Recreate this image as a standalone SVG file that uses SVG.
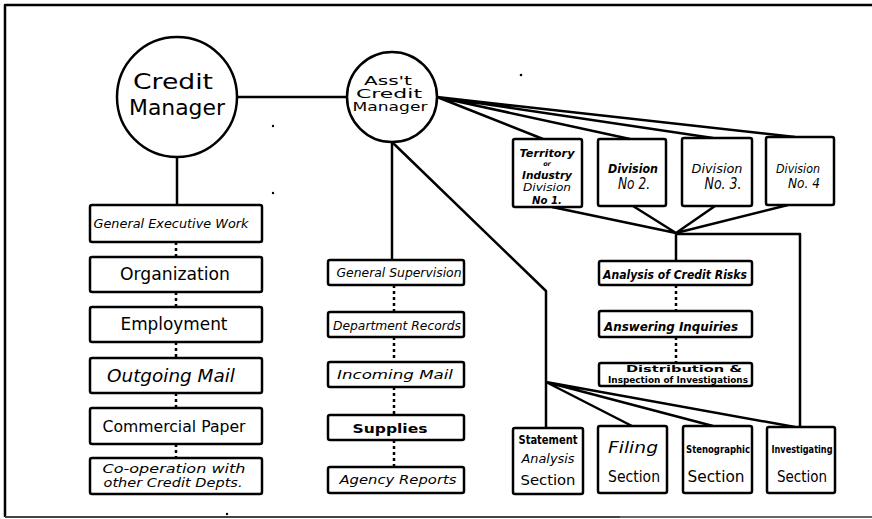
<svg xmlns="http://www.w3.org/2000/svg" width="872" height="519" viewBox="0 0 872 519">
<style>
.b{fill:#fff;stroke:#000;stroke-width:2.5}
.c{fill:#fff;stroke:#000;stroke-width:2.5}
.l{fill:none;stroke:#000;stroke-width:2.5;stroke-linejoin:round}
.d{fill:none;stroke:#000;stroke-width:2.5;stroke-dasharray:3 3}
.t{font-family:"DejaVu Sans","Liberation Sans",sans-serif;fill:#000;text-anchor:middle}
.i{font-style:italic}
.bd{font-weight:bold}
</style>
<rect width="872" height="519" fill="#fff"/>
<g id="frame">
<path class="l" d="M5,517 L5,5 L872,5" stroke-width="2"/>
<path d="M5,517 L620,517" stroke="#444" stroke-width="2"/>
<path d="M620,517 L872,517" stroke="#666" stroke-width="2"/>
<circle cx="521" cy="75" r="1.3"/>
<circle cx="273" cy="126" r="1.2"/>
<circle cx="273" cy="193" r="1.2"/>
<circle cx="227" cy="514" r="1.2"/>
</g>
<g id="connectors">
<path class="l" d="M238,97 L347,97"/>
<path class="l" d="M177,158 L177,205"/>
<path class="l" d="M392,142 L392,260"/>
<path class="l" d="M392,142 L546,291 L546,428"/>
<path class="l" d="M546,382 L632,426 M546,382 L713,426 M546,382 L795,427"/>
<path class="l" d="M437,97 L543,139 M437,97 L630,139 M437,97 L713,138 M437,97 L795,137"/>
<path class="l" d="M552,207 L676,233 M633,206 L676,233 M715,206 L676,233 M788,205 L676,233"/>
<path class="l" d="M676,233 L676,261"/>
<path class="l" d="M676,234 L800,234 L800,427"/>
<path class="d" d="M176,242 V257 M176,292 V307 M176,342 V358 M176,393 V408 M176,444 V458"/>
<path class="d" d="M394,285 V312 M394,337 V362 M394,387 V415 M394,440 V467"/>
<path class="d" d="M676,285 V311 M676,337 V363"/>
</g>
<g id="credit-manager">
<circle class="c" cx="177" cy="97" r="60"/>
<text class="t" x="173" y="89" font-size="22" textLength="80" lengthAdjust="spacingAndGlyphs">Credit</text>
<text class="t" x="177" y="115" font-size="22" textLength="96" lengthAdjust="spacingAndGlyphs">Manager</text>
</g>
<g id="asst-credit-manager">
<circle class="c" cx="392" cy="97" r="45"/>
<text class="t" x="388" y="85" font-size="11.5" textLength="48" lengthAdjust="spacingAndGlyphs">Ass't</text>
<text class="t" x="389" y="98" font-size="11.5" textLength="66" lengthAdjust="spacingAndGlyphs">Credit</text>
<text class="t" x="390" y="111" font-size="11.5" textLength="75" lengthAdjust="spacingAndGlyphs">Manager</text>
</g>
<g id="general-executive-work">
<rect class="b" x="90" y="205" width="172" height="37" rx="2"/>
<text class="t i" x="171" y="228" font-size="13" textLength="155" lengthAdjust="spacingAndGlyphs">General Executive Work</text>
</g>
<g id="organization">
<rect class="b" x="90" y="257" width="172" height="35" rx="2"/>
<text class="t" x="175" y="280" font-size="17" textLength="110" lengthAdjust="spacingAndGlyphs">Organization</text>
</g>
<g id="employment">
<rect class="b" x="90" y="307" width="172" height="35" rx="2"/>
<text class="t" x="174" y="330" font-size="17" textLength="107" lengthAdjust="spacingAndGlyphs">Employment</text>
</g>
<g id="outgoing-mail">
<rect class="b" x="90" y="358" width="172" height="35" rx="2"/>
<text class="t i" x="171" y="382" font-size="17" textLength="128" lengthAdjust="spacingAndGlyphs">Outgoing Mail</text>
</g>
<g id="commercial-paper">
<rect class="b" x="90" y="408" width="172" height="36" rx="2"/>
<text class="t" x="174" y="432" font-size="16" textLength="143" lengthAdjust="spacingAndGlyphs">Commercial Paper</text>
</g>
<g id="co-operation">
<rect class="b" x="90" y="458" width="172" height="36" rx="2"/>
<text class="t i" x="174" y="473" font-size="12" textLength="143" lengthAdjust="spacingAndGlyphs">Co-operation  with</text>
<text class="t i" x="173" y="487" font-size="12" textLength="139" lengthAdjust="spacingAndGlyphs">other Credit Depts.</text>
</g>
<g id="general-supervision">
<rect class="b" x="328" y="260" width="136" height="25" rx="2"/>
<text class="t i" x="399" y="277" font-size="12" textLength="125" lengthAdjust="spacingAndGlyphs">General Supervision</text>
</g>
<g id="department-records">
<rect class="b" x="328" y="312" width="136" height="25" rx="2"/>
<text class="t i" x="397" y="330" font-size="12" textLength="128" lengthAdjust="spacingAndGlyphs">Department Records</text>
</g>
<g id="incoming-mail">
<rect class="b" x="328" y="362" width="136" height="25" rx="2"/>
<text class="t i" x="395" y="379" font-size="13" textLength="116" lengthAdjust="spacingAndGlyphs">Incoming Mail</text>
</g>
<g id="supplies">
<rect class="b" x="328" y="415" width="136" height="25" rx="2"/>
<text class="t bd" x="390" y="433" font-size="13" textLength="75" lengthAdjust="spacingAndGlyphs">Supplies</text>
</g>
<g id="agency-reports">
<rect class="b" x="328" y="467" width="136" height="26" rx="2"/>
<text class="t i" x="398" y="484" font-size="12" textLength="117" lengthAdjust="spacingAndGlyphs">Agency  Reports</text>
</g>
<g id="division-1">
<rect class="b" x="513" y="139" width="69" height="68" rx="2"/>
<text class="t i bd" x="547" y="157" font-size="10" textLength="55" lengthAdjust="spacingAndGlyphs">Territory</text>
<text class="t i bd" x="547" y="166" font-size="6.5">or</text>
<text class="t i bd" x="547" y="179" font-size="10" textLength="50" lengthAdjust="spacingAndGlyphs">Industry</text>
<text class="t i" x="547" y="191" font-size="10" textLength="48" lengthAdjust="spacingAndGlyphs">Division</text>
<text class="t i bd" x="547" y="204" font-size="11" textLength="30" lengthAdjust="spacingAndGlyphs">No 1.</text>
</g>
<g id="division-2">
<rect class="b" x="598" y="139" width="68" height="67" rx="2"/>
<text class="t i bd" x="633" y="173" font-size="12" textLength="50" lengthAdjust="spacingAndGlyphs">Division</text>
<text class="t i" x="634" y="189" font-size="15" textLength="32" lengthAdjust="spacingAndGlyphs">No 2.</text>
</g>
<g id="division-3">
<rect class="b" x="682" y="138" width="70" height="68" rx="2"/>
<text class="t i" x="717" y="173" font-size="12" textLength="51" lengthAdjust="spacingAndGlyphs">Division</text>
<text class="t i" x="723" y="189" font-size="15" textLength="37" lengthAdjust="spacingAndGlyphs">No. 3.</text>
</g>
<g id="division-4">
<rect class="b" x="766" y="137" width="68" height="68" rx="2"/>
<text class="t i" x="798" y="173" font-size="12" textLength="44" lengthAdjust="spacingAndGlyphs">Division</text>
<text class="t i" x="804" y="188" font-size="14" textLength="32" lengthAdjust="spacingAndGlyphs">No. 4</text>
</g>
<g id="analysis-of-credit-risks">
<rect class="b" x="599" y="261" width="153" height="24" rx="2"/>
<text class="t i bd" x="675" y="279" font-size="12" textLength="144" lengthAdjust="spacingAndGlyphs">Analysis of Credit Risks</text>
</g>
<g id="answering-inquiries">
<rect class="b" x="599" y="311" width="153" height="26" rx="2"/>
<text class="t i bd" x="671" y="331" font-size="12" textLength="134" lengthAdjust="spacingAndGlyphs">Answering  Inquiries</text>
</g>
<g id="distribution">
<rect class="b" x="599" y="363" width="153" height="23" rx="2"/>
<text class="t bd" x="684" y="372" font-size="9" textLength="116" lengthAdjust="spacingAndGlyphs">Distribution  &amp;</text>
<text class="t bd" x="678" y="383" font-size="8.5" textLength="140" lengthAdjust="spacingAndGlyphs">Inspection of Investigations</text>
</g>
<g id="statement-analysis-section">
<rect class="b" x="513" y="428" width="70" height="66" rx="2"/>
<text class="t bd" x="548" y="444" font-size="12" textLength="59" lengthAdjust="spacingAndGlyphs">Statement</text>
<text class="t i" x="548" y="463" font-size="13" textLength="53" lengthAdjust="spacingAndGlyphs">Analysis</text>
<text class="t" x="548" y="485" font-size="14" textLength="55" lengthAdjust="spacingAndGlyphs">Section</text>
</g>
<g id="filing-section">
<rect class="b" x="598" y="426" width="69" height="67" rx="2"/>
<text class="t i" x="633" y="453" font-size="16" textLength="50" lengthAdjust="spacingAndGlyphs">Filing</text>
<text class="t" x="634" y="482" font-size="15" textLength="52" lengthAdjust="spacingAndGlyphs">Section</text>
</g>
<g id="stenographic-section">
<rect class="b" x="683" y="426" width="69" height="67" rx="2"/>
<text class="t bd" x="718" y="453" font-size="10" textLength="64" lengthAdjust="spacingAndGlyphs">Stenographic</text>
<text class="t" x="716" y="482" font-size="15" textLength="57" lengthAdjust="spacingAndGlyphs">Section</text>
</g>
<g id="investigating-section">
<rect class="b" x="767" y="427" width="68" height="66" rx="2"/>
<text class="t bd" x="802" y="453" font-size="10" textLength="61" lengthAdjust="spacingAndGlyphs">Investigating</text>
<text class="t" x="802" y="482" font-size="15" textLength="50" lengthAdjust="spacingAndGlyphs">Section</text>
</g>
</svg>
